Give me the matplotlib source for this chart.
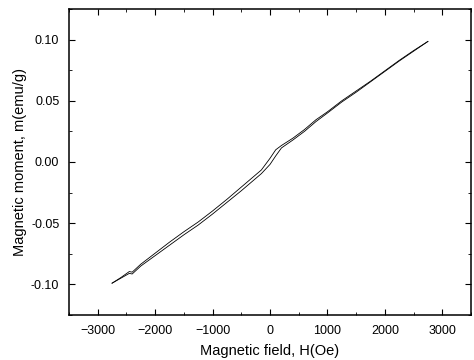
import matplotlib
matplotlib.use('Agg')
import matplotlib.pyplot as plt
from matplotlib.ticker import MultipleLocator

plt.rcParams['font.family'] = ['Liberation Sans', 'DejaVu Sans']

# field values (Oe) and moment (emu/g) for the two branches of the loop
field = [-2750, -2600, -2450, -2400, -2250, -2000, -1750, -1500, -1250, -1000,
         -750, -500, -300, -150, 0, 100, 200, 400, 600, 800,
         1000, 1250, 1500, 1750, 2000, 2250, 2500, 2750]
m_up = [-0.099, -0.095, -0.091, -0.0915, -0.085, -0.0765, -0.068, -0.0595, -0.0515, -0.0425,
        -0.033, -0.0235, -0.0155, -0.0095, -0.002, 0.005, 0.0115, 0.018, 0.025, 0.033,
        0.040, 0.049, 0.057, 0.0655, 0.074, 0.0825, 0.0905, 0.0985]
m_down = [-0.099, -0.0945, -0.0895, -0.090, -0.0835, -0.0745, -0.0655, -0.057, -0.049, -0.040,
          -0.0305, -0.0205, -0.0125, -0.0065, 0.003, 0.010, 0.0135, 0.0195, 0.0265, 0.0345,
          0.041, 0.050, 0.058, 0.066, 0.0745, 0.083, 0.091, 0.0985]

fig = plt.figure(figsize=(4.74, 3.6), dpi=100)
ax = fig.add_axes([0.1456, 0.125, 0.848, 0.85])

ax.plot(field, m_up, 'k-', linewidth=0.6)
ax.plot(field, m_down, 'k-', linewidth=0.6)

ax.set_xlim(-3500, 3500)
ax.set_ylim(-0.125, 0.125)
ax.xaxis.set_major_locator(MultipleLocator(1000))
ax.xaxis.set_minor_locator(MultipleLocator(500))
ax.yaxis.set_major_locator(MultipleLocator(0.05))
ax.yaxis.set_minor_locator(MultipleLocator(0.025))
ax.yaxis.set_major_formatter(plt.FormatStrFormatter('%.2f'))
ax.tick_params(which='both', direction='in', top=True, right=True, labelsize=9)
ax.tick_params(which='major', length=4, pad=7)
ax.tick_params(which='minor', length=2.5)
for s in ax.spines.values():
    s.set_linewidth(1.1)

ax.set_xlabel('Magnetic field, H(Oe)', fontsize=10.5, labelpad=5)
ax.set_ylabel('Magnetic moment, m(emu/g)', fontsize=10.5, labelpad=3)

fig.savefig('out.png', dpi=100)
